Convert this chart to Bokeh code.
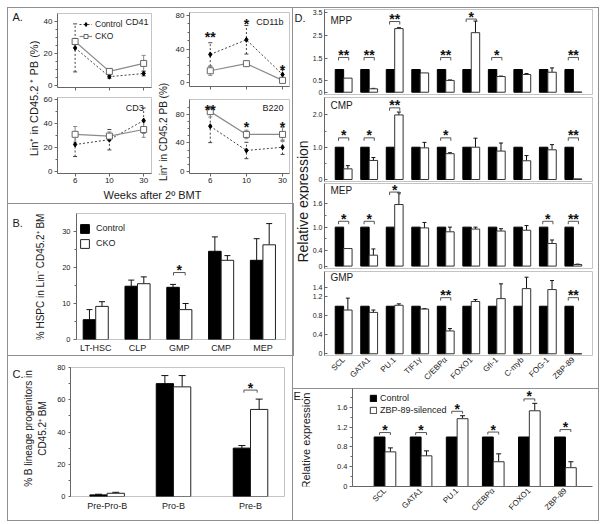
import math
from bokeh.plotting import figure
from bokeh.layouts import row, column
from bokeh.models import (Range1d, FixedTicker, Label, Whisker, TeeHead,
                          ColumnDataSource, Legend, LegendItem, Spacer)
from bokeh.core.properties import value
from bokeh.embed import file_html
from bokeh.resources import INLINE

FONT = "Liberation Sans"

# ---------------- data ----------------
# Panel A
weeks = ["6", "10", "30"]
cd41_ctrl = [23.5, 5.5, 7.5]
cd41_ctrl_err = [15.0, 1.0, 1.5]
cd41_cko = [27.5, 8.8, 13.8]
cd41_cko_err = [2.0, 1.5, 5.0]
cd11b_ctrl = [33.5, 51.0, 9.5]
cd11b_ctrl_err = [14.0, 17.0, 6.0]
cd11b_cko = [14.0, 22.5, 2.5]
cd11b_cko_err = [5.5, 3.0, 1.5]
cd3_ctrl = [22.5, 26.5, 42.5]
cd3_ctrl_err = [10.0, 8.5, 10.5]
cd3_cko = [31.0, 29.5, 35.0]
cd3_cko_err = [6.5, 3.5, 6.5]
b220_ctrl = [63.5, 29.5, 34.0]
b220_ctrl_err = [23.0, 11.5, 10.0]
b220_cko = [84.0, 52.0, 52.0]
b220_cko_err = [7.5, 6.0, 10.0]
cd11b_sig = ["**", "*", "*"]
cd11b_sig_y = [54.7, 70.2, 15.2]
b220_sig = ["**", "*", "*"]
b220_sig_y = [86.7, 62.9, 62.9]

# Panel B
hspc_cats = ["LT-HSC", "CLP", "GMP", "CMP", "MEP"]
hspc_ctrl = [5.5, 14.8, 14.5, 24.5, 22.0]
hspc_ctrl_err = [2.8, 1.7, 0.8, 4.0, 6.0]
hspc_cko = [9.2, 15.5, 8.3, 22.0, 26.3]
hspc_cko_err = [1.3, 1.9, 1.7, 1.3, 5.9]
hspc_sig = ["", "", "*", "", ""]
hspc_sig_y = [0, 0, 18.6, 0, 0]

# Panel C
blin_cats = ["Pre-Pro-B", "Pro-B", "Pre-B"]
blin_ctrl = [1.0, 70.0, 30.0]
blin_ctrl_err = [0.4, 5.0, 1.6]
blin_cko = [2.0, 68.0, 54.0]
blin_cko_err = [0.6, 7.0, 6.4]
blin_sig = ["", "", "*"]
blin_sig_y = [0, 0, 66.0]

# Panel D
genes = ["SCL", "GATA1", "PU.1", "TIF1γ", "C/EBPα", "FOXO1", "Gfi-1", "C-myb", "FOG-1", "ZBP-89"]
d_ctrl = [1.0, 1.0, 1.0, 1.0, 1.0, 1.0, 1.0, 1.0, 1.0, 1.0]
mpp_cko = [0.62, 0.15, 2.80, 0.85, 0.52, 2.62, 0.69, 0.78, 0.88, 0.01]
mpp_err = [0.0, 0.02, 0.04, 0.0, 0.02, 0.51, 0.02, 0.04, 0.19, 0.0]
mpp_sig = ["**", "**", "**", "", "**", "*", "*", "", "", "**"]
mpp_sig_y = [1.53, 1.53, 3.11, 0, 1.53, 3.22, 1.53, 0, 0, 1.53]
cmp_cko = [0.33, 0.59, 2.00, 0.98, 0.80, 1.00, 0.88, 0.58, 0.92, 0.02]
cmp_err = [0.10, 0.09, 0.09, 0.17, 0.03, 0.28, 0.25, 0.16, 0.16, 0.0]
cmp_sig = ["*", "*", "**", "", "*", "", "", "", "", "**"]
cmp_sig_y = [1.29, 1.29, 2.22, 0, 1.29, 0, 0, 0, 0, 1.29]
mep_cko = [0.45, 0.28, 1.58, 0.98, 0.88, 0.95, 0.90, 0.92, 0.58, 0.04]
mep_err = [0.0, 0.16, 0.30, 0.14, 0.12, 0.05, 0.06, 0.12, 0.09, 0.01]
mep_sig = ["*", "*", "*", "", "", "", "", "", "*", "**"]
mep_sig_y = [1.15, 1.15, 1.90, 0, 0, 0, 0, 0, 1.15, 1.15]
gmp_cko = [0.92, 0.87, 1.02, 0.94, 0.48, 1.10, 1.16, 1.37, 1.35, 0.0]
gmp_err = [0.25, 0.05, 0.03, 0.01, 0.05, 0.04, 0.31, 0.24, 0.19, 0.0]
gmp_sig = ["", "", "", "", "**", "", "", "", "", "**"]
gmp_sig_y = [0, 0, 0, 0, 1.18, 0, 0, 0, 0, 1.18]

# Panel E
e_genes = ["SCL", "GATA1", "PU.1", "C/EBPα", "FOXO1", "ZBP-89"]
e_ctrl = [1.0, 1.0, 1.0, 1.0, 1.0, 1.0]
e_sil = [0.70, 0.62, 1.37, 0.50, 1.53, 0.38]
e_sil_err = [0.08, 0.10, 0.06, 0.16, 0.15, 0.12]
e_sig = ["*", "*", "*", "*", "*", "*"]
e_sig_y = [1.09, 1.09, 1.52, 1.10, 1.77, 1.15]

# ---------------- helpers ----------------
GEO = {}
AX = "#666666"
STAR = "14px"


def make_fig(w, h, xr, yr, ml, mr, mt, mb, xaxis=True, yaxis=True, outline="#c4c4c4"):
    p = figure(width=w, height=h, title=None,
               x_range=Range1d(*xr), y_range=Range1d(*yr),
               x_axis_location="below" if xaxis else None,
               y_axis_location="left" if yaxis else None,
               output_backend="svg", toolbar_location=None,
               min_border_left=ml, min_border_right=mr,
               min_border_top=mt, min_border_bottom=mb)
    p.toolbar.logo = None
    p.border_fill_color = None
    p.background_fill_color = None
    p.outline_line_color = outline
    for g in list(p.xgrid) + list(p.ygrid):
        g.visible = False
    GEO[p.id] = (xr, yr, w - ml - mr, h - mt - mb)
    return p


def style_axis(ax, size, tick_out=3, tick_in=0, standoff=2, minor_out=2, minor_in=0):
    ax.axis_line_color = AX
    ax.major_tick_line_color = AX
    ax.minor_tick_line_color = AX
    ax.major_tick_out = tick_out
    ax.major_tick_in = tick_in
    ax.minor_tick_out = minor_out
    ax.minor_tick_in = minor_in
    ax.major_label_text_font = FONT
    ax.major_label_text_font_size = size
    ax.major_label_text_color = "#222222"
    ax.major_label_standoff = standoff


def strip(w, h):
    return make_fig(w, h, (0, w), (0, h), 0, 0, 0, 0, xaxis=False, yaxis=False, outline=None)


def put(p, x, y, text, size, angle=0.0, align="left", baseline="middle"):
    p.add_layout(Label(x=x, y=y, text=text, angle=angle, text_align=align,
                       text_baseline=baseline, text_font=FONT,
                       text_font_size=f"{size}px", text_color="#1a1a1a"))


def frame_label(p, dx, dy, text, size, align):
    xr, yr, fw, fh = GEO[p.id]
    if align == "left":
        x = xr[0] + dx * (xr[1] - xr[0]) / fw
    else:
        x = xr[1] - dx * (xr[1] - xr[0]) / fw
    y = yr[1] - dy * (yr[1] - yr[0]) / fh
    put(p, x, y, text, size, align=align)


def add_up_err(p, xs, tops, errs, head=5, color="#111111"):
    keep = [i for i, e in enumerate(errs) if e > 0]
    src = ColumnDataSource(dict(base=[xs[i] for i in keep],
                                lower=[tops[i] for i in keep],
                                upper=[tops[i] + errs[i] for i in keep]))
    p.add_layout(Whisker(source=src, base="base", lower="lower", upper="upper",
                         dimension="height", line_color=color, line_width=1,
                         upper_head=TeeHead(size=head, line_color=color, line_width=1),
                         lower_head=None))


def add_sym_err(p, xs, vals, errs, color, dash):
    src = ColumnDataSource(dict(base=xs,
                                lower=[v - e for v, e in zip(vals, errs)],
                                upper=[v + e for v, e in zip(vals, errs)]))
    p.add_layout(Whisker(source=src, base="base", lower="lower", upper="upper",
                         dimension="height", line_color=color, line_width=1, line_dash=dash,
                         upper_head=TeeHead(size=4, line_color=color, line_width=1),
                         lower_head=TeeHead(size=4, line_color=color, line_width=1)))


def add_sig(p, xs, sig, sig_y, half, leg, bracket=True):
    idx = [i for i, s in enumerate(sig) if s]
    if bracket:
        p.multi_line(xs=[[xs[i] - half, xs[i] - half, xs[i] + half, xs[i] + half] for i in idx],
                     ys=[[sig_y[i] - leg, sig_y[i], sig_y[i], sig_y[i] - leg] for i in idx],
                     line_color="#555555", line_width=1)
    p.text(x=[xs[i] for i in idx], y=[sig_y[i] for i in idx], text=[sig[i] for i in idx],
           text_align="center", text_baseline="alphabetic", text_font=value(FONT),
           text_font_size=STAR, text_font_style="bold", text_color="#111111",
           y_offset=-2.5 if bracket else 0)


def make_legend(items, loc, gw, gh, lh, spacing, standoff, size):
    return Legend(items=[LegendItem(label=l, renderers=r) for l, r in items],
                  location=loc, orientation="vertical", border_line_color=None,
                  background_fill_alpha=0.0, padding=0, margin=0, spacing=spacing,
                  glyph_width=gw, glyph_height=gh, label_height=lh,
                  label_standoff=standoff, label_text_font=FONT,
                  label_text_font_size=size, label_text_color="#222222")


# ---------------- Panel A ----------------
wpos = list(range(1, len(weeks) + 1))


def lin_panel(w, h, xr, yr, ml, mr, mt, mb, ctrl, ctrl_err, cko, cko_err,
              yticks, yminor, show_lbl):
    p = make_fig(w, h, xr, yr, ml, mr, mt, mb)
    add_sym_err(p, wpos, ctrl, ctrl_err, "#444444", "2 2")
    add_sym_err(p, wpos, cko, cko_err, "#8a8a8a", "solid")
    lc = p.line(wpos, ctrl, line_color="#444444", line_dash="2 2", line_width=1)
    lk = p.line(wpos, cko, line_color="#8a8a8a", line_width=1.2)
    mc = p.scatter(wpos, ctrl, marker="diamond", size=5, fill_color="black", line_color="black")
    mk = p.scatter(wpos, cko, marker="square", size=6, fill_color="white", line_color="#666666")
    p.xaxis.ticker = FixedTicker(ticks=wpos, minor_ticks=[])
    p.xaxis.major_label_overrides = {k: (lb if show_lbl else "") for k, lb in zip(wpos, weeks)}
    p.yaxis.ticker = FixedTicker(ticks=yticks, minor_ticks=yminor)
    style_axis(p.xaxis[0], "8px", tick_out=3, standoff=1)
    style_axis(p.yaxis[0], "8px", tick_out=3, standoff=2)
    return p, (lc, mc, lk, mk)


TL, rA = lin_panel(115, 87, (0.486, 3.229), (-1.25, 45.0), 15, 4, 5, 8,
                   cd41_ctrl, cd41_ctrl_err, cd41_cko, cd41_cko_err,
                   [0, 20, 40], [5, 10, 15, 25, 30, 35], False)
frame_label(TL, 3, 8, "CD41", 9, "right")
TL.add_layout(make_legend([("Control", [rA[0], rA[1]]), ("CKO", [rA[2], rA[3]])],
                          (22, 46.5), 13, 10, 10, 2, 3, "8.5px"))

BL, _ = lin_panel(115, 92, (0.486, 3.229), (-1.67, 61.7), 15, 4, 2, 14,
                  cd3_ctrl, cd3_ctrl_err, cd3_cko, cd3_cko_err,
                  [0, 20, 40, 60], [10, 30, 50], True)
frame_label(BL, 8, 10, "CD3", 9, "right")

TR, _ = lin_panel(121, 87, (0.425, 3.192), (-4.78, 83.6), 16, 4, 4, 9,
                  cd11b_ctrl, cd11b_ctrl_err, cd11b_cko, cd11b_cko_err,
                  [0, 40, 80], [10, 20, 30, 50, 60, 70], False)
frame_label(TR, 6, 9, "CD11b", 9, "right")
add_sig(TR, wpos, cd11b_sig, cd11b_sig_y, 0, 0, bracket=False)

BR, _ = lin_panel(121, 92, (0.425, 3.192), (-2.8, 101.0), 16, 4, 4, 14,
                  b220_ctrl, b220_ctrl_err, b220_cko, b220_cko_err,
                  [0, 40, 80], [10, 20, 30, 50, 60, 70, 90], True)
frame_label(BR, 6, 8, "B220", 9, "right")
add_sig(BR, wpos, b220_sig, b220_sig_y, 0, 0, bracket=False)

sA1 = strip(32, 179)
put(sA1, 4, 171, "A.", 11)
put(sA1, 25, 89, "Lin⁺ in CD45.2 ⁺ PB (%)", 11, angle=math.pi / 2, align="center")
sA2 = strip(17, 179)
put(sA2, 8, 57, "Lin⁺ in CD45.2  PB (%)", 10, angle=math.pi / 2, align="center")
xlA = strip(285, 17)
put(xlA, 144, 10, "Weeks after 2º BMT", 11, align="center")

panelA = column(row(sA1, column(TL, BL), sA2, column(TR, BR)), xlA)

# ---------------- Panel B ----------------
hx = list(range(len(hspc_cats)))
figB = make_fig(245, 151, (-0.46, 4.54), (0, 35), 28, 8, 9, 16)
bw = 0.3
hxc = [x - bw / 2 for x in hx]
hxk = [x + bw / 2 for x in hx]
add_up_err(figB, hxc, hspc_ctrl, hspc_ctrl_err, head=6)
add_up_err(figB, hxk, hspc_cko, hspc_cko_err, head=6)
rbc = figB.vbar(x=hxc, top=hspc_ctrl, width=bw, fill_color="black", line_color="black")
rbk = figB.vbar(x=hxk, top=hspc_cko, width=bw, fill_color="white", line_color="#222222")
add_sig(figB, hx, hspc_sig, hspc_sig_y, 0.14, 0.8)
figB.xaxis.ticker = FixedTicker(ticks=hx, minor_ticks=[])
figB.xaxis.major_label_overrides = dict(zip(hx, hspc_cats))
figB.yaxis.ticker = FixedTicker(ticks=[0, 10, 20, 30], minor_ticks=[5, 15, 25])
style_axis(figB.xaxis[0], "9px", tick_out=0, standoff=3, minor_out=0)
figB.xaxis.axis_line_color = None
style_axis(figB.yaxis[0], "7.5px", tick_out=3, standoff=3)
figB.add_layout(make_legend([("Control", [rbc]), ("CKO", [rbk])],
                            (3, 90), 11, 11, 12, 3, 6, "9px"))
sB = strip(40, 151)
put(sB, 4, 140, "B.", 11)
put(sB, 32, 75, "% HSPC in Lin⁻ CD45.2⁺ BM", 10, angle=math.pi / 2, align="center")
panelB = row(sB, figB, styles={"outline": "1px solid #8f8f8f"})

# ---------------- Panel C ----------------
blin_pos = [1.0, 2.0, 3.16]
figC = make_fig(239, 165, (0.448, 3.672), (0, 80), 14, 9, 12, 24)
cw = 0.26
cxc = [x - cw / 2 for x in blin_pos]
cxk = [x + cw / 2 for x in blin_pos]
add_up_err(figC, cxc, blin_ctrl, blin_ctrl_err, head=7)
add_up_err(figC, cxk, blin_cko, blin_cko_err, head=7)
figC.vbar(x=cxc, top=blin_ctrl, width=cw, fill_color="black", line_color="black")
figC.vbar(x=cxk, top=blin_cko, width=cw, fill_color="white", line_color="#222222")
add_sig(figC, blin_pos, blin_sig, blin_sig_y, 0.1, 1.6)
figC.xaxis.ticker = FixedTicker(ticks=blin_pos, minor_ticks=[])
figC.xaxis.major_label_overrides = dict(zip(blin_pos, blin_cats))
figC.yaxis.ticker = FixedTicker(ticks=[0, 20, 40, 60, 80], minor_ticks=[10, 30, 50, 70])
style_axis(figC.xaxis[0], "9px", tick_out=0, standoff=4, minor_out=0)
figC.xaxis.axis_line_color = None
style_axis(figC.yaxis[0], "7.5px", tick_out=2, standoff=3)
sC = strip(46, 165)
put(sC, 4, 157, "C.", 11)
put(sC, 20, 87, "% B lineage progenitors in", 10, angle=math.pi / 2, align="center")
put(sC, 34, 87, "CD45.2⁺ BM", 10, angle=math.pi / 2, align="center")
panelC = row(sC, figC)

# ---------------- Panel D ----------------
gx = list(range(len(genes)))


def d_panel(h, yr, mt, mb, cko, err, sig, sig_y, yticks, ylabels, yminor, name, name_dy, show_x):
    p = make_fig(289, h, (-0.75, 9.75), yr, 14, 6, mt, mb, xaxis=show_x)
    dw = 0.33
    xc = [x - dw / 2 for x in gx]
    xk = [x + dw / 2 for x in gx]
    add_up_err(p, xk, cko, err, head=4)
    p.vbar(x=xc, top=d_ctrl, width=dw, fill_color="black", line_color="black")
    p.vbar(x=xk, top=cko, width=dw, fill_color="white", line_color="#333333")
    add_sig(p, gx, sig, sig_y, 0.2, 0.035 * (yr[1] - yr[0]))
    p.yaxis.ticker = FixedTicker(ticks=yticks, minor_ticks=yminor)
    p.yaxis.major_label_overrides = dict(zip(yticks, ylabels))
    style_axis(p.yaxis[0], "7px", tick_out=0, tick_in=3, standoff=2, minor_out=0, minor_in=2)
    frame_label(p, 6, name_dy, name, 10, "left")
    if show_x:
        p.xaxis.ticker = FixedTicker(ticks=gx, minor_ticks=[])
        p.xaxis.major_label_overrides = dict(zip(gx, genes))
        p.xaxis.major_label_orientation = math.pi / 4
        style_axis(p.xaxis[0], "8px", tick_out=0, standoff=3, minor_out=0)
        p.xaxis.axis_line_color = None
    return p


MPP = d_panel(88, (-0.10, 3.64), 1, 2, mpp_cko, mpp_err, mpp_sig, mpp_sig_y,
              [0, 0.5, 1.5, 2.5, 3.5], ["0", "0.5", "1.5", "2.5", "3.5"], [], "MPP", 11, False)
CMP = d_panel(86, (-0.062, 2.54), 1, 1, cmp_cko, cmp_err, cmp_sig, cmp_sig_y,
              [0, 1, 2], ["0", "1.0", "2.0"], [0.5, 1.5], "CMP", 8, False)
MEP = d_panel(87, (-0.062, 2.12), 1, 1, mep_cko, mep_err, mep_sig, mep_sig_y,
              [0, 0.4, 1.0, 1.6], ["0", "0.4", "1.0", "1.6"], [0.7, 1.3], "MEP", 7, False)
GMP = d_panel(119, (-0.036, 1.73), 2, 33, gmp_cko, gmp_err, gmp_sig, gmp_sig_y,
              [0, 0.4, 0.8, 1.2, 1.4], ["0", "0.4", "0.8", "1.2", "1.4"], [], "GMP", 6, True)
sD = strip(16, 380)
put(sD, 1, 371, "D.", 11)
put(sD, 9, 187, "Relative expression", 14, angle=math.pi / 2, align="center")
panelD = row(sD, column(MPP, CMP, MEP, GMP), styles={"outline": "1px solid #8f8f8f"})

# ---------------- Panel E ----------------
ex = list(range(len(e_genes)))
figE = make_fig(281, 132, (-0.9, 5.75), (0, 1.98), 35, 6, 0, 34, outline=None)
ew = 0.3
exc = [x - ew / 2 for x in ex]
exk = [x + ew / 2 for x in ex]
add_up_err(figE, exk, e_sil, e_sil_err, head=5)
rec = figE.vbar(x=exc, top=e_ctrl, width=ew, fill_color="black", line_color="black")
rek = figE.vbar(x=exk, top=e_sil, width=ew, fill_color="white", line_color="#333333")
add_sig(figE, ex, e_sig, e_sig_y, 0.15, 0.05)
figE.xaxis.ticker = FixedTicker(ticks=ex, minor_ticks=[])
figE.xaxis.major_label_overrides = dict(zip(ex, e_genes))
figE.xaxis.major_label_orientation = math.pi / 4
figE.yaxis.ticker = FixedTicker(ticks=[0, 0.4, 0.8, 1.2, 1.6], minor_ticks=[0.2, 0.6, 1.0, 1.4, 1.8])
style_axis(figE.xaxis[0], "8px", tick_out=0, standoff=3, minor_out=0)
style_axis(figE.yaxis[0], "7.5px", tick_out=3, standoff=2)
figE.add_layout(make_legend([("Control", [rec]), ("ZBP-89-silenced", [rek])],
                            (17, 71), 8, 8, 9, 2, 3, "9px"))
sE = strip(24, 132)
put(sE, 0, 122, "E.", 11)
put(sE, 12, 64, "Relative  expression", 11, angle=math.pi / 2, align="center")
panelE = row(sE, figE)

# ---------------- assemble ----------------
left = column(panelA, panelB, panelC)
right = column(panelD, panelE, styles={"outline": "1px solid #8f8f8f"})
content = row(left, right, styles={"outline": "1px solid #8f8f8f"})
root = column(Spacer(width=590, height=8), row(Spacer(width=8, height=512), content))

open("out.html", "w").write(file_html(root, INLINE))
